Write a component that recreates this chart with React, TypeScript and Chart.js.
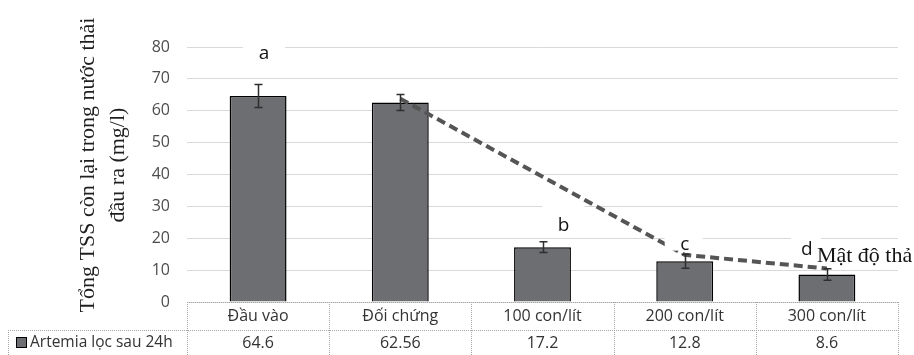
import React, { useEffect, useRef } from "react";
import { Chart, registerables } from "chart.js";

Chart.register(...registerables);

const categories = ["Đầu vào", "Đối chứng", "100 con/lít", "200 con/lít", "300 con/lít"];
const seriesName = "Artemia lọc sau 24h";
const values = [64.6, 62.56, 17.2, 12.8, 8.6];
const valueLabels = ["64.6", "62.56", "17.2", "12.8", "8.6"];
const errors = [3.6, 2.5, 1.7, 2.2, 1.8];
const trendValues = [null, 63.8, null, 14.8, 10.5];
const letters = ["a", "", "b", "c", "d"];
const letterValues = [78, null, 24, 18, 16.3];
const yMin = 0;
const yMax = 80;
const yStep = 10;
const yTitle = ["Tổng TSS còn lại trong nước thải", "đầu ra (mg/l)"];
const annotationText = "Mật độ thả";

const SANS = '"Open Sans", "Noto Sans", sans-serif';
const SERIF = '"Liberation Serif", "DejaVu Serif", serif';

const letterBoxes = [
  { dx: 6, box: [-21, -8, 42, 20] },
  null,
  { dx: 21, box: [-21, -23, 42, 34] },
  { dx: 0, box: [-20, -14, 38, 20] },
  { dx: -20, box: [-16, -16, 30, 22] },
];

const overlayPlugin = {
  id: "overlay",
  afterDatasetsDraw(chart: any) {
    const { ctx } = chart;
    const xs = chart.scales.x;
    const ys = chart.scales.y;
    ctx.save();
    // error bars
    ctx.strokeStyle = "#2e2e2e";
    ctx.lineWidth = 1.5;
    values.forEach((v, i) => {
      const x = Math.round(xs.getPixelForValue(i)) + 0.5;
      const top = ys.getPixelForValue(v + errors[i]);
      const bot = ys.getPixelForValue(v - errors[i]);
      ctx.beginPath();
      ctx.moveTo(x, top);
      ctx.lineTo(x, bot);
      ctx.moveTo(x - 4, top);
      ctx.lineTo(x + 4, top);
      ctx.moveTo(x - 4, bot);
      ctx.lineTo(x + 4, bot);
      ctx.stroke();
    });
    // letters with white boxes
    ctx.font = `19px ${SANS}`;
    ctx.textAlign = "center";
    ctx.textBaseline = "middle";
    letters.forEach((l, i) => {
      const lv = letterValues[i];
      const spec = letterBoxes[i];
      if (!l || lv === null || !spec) return;
      const x = xs.getPixelForValue(i) + spec.dx;
      const y = ys.getPixelForValue(lv);
      ctx.fillStyle = "#ffffff";
      ctx.fillRect(x + spec.box[0], y + spec.box[1], spec.box[2], spec.box[3]);
      ctx.fillStyle = "#141414";
      ctx.fillText(l, x, y);
    });
    // annotation text
    ctx.font = `22px ${SERIF}`;
    ctx.textAlign = "left";
    ctx.textBaseline = "alphabetic";
    ctx.fillStyle = "#141414";
    ctx.fillText(annotationText, xs.getPixelForValue(4) - 10, ys.getPixelForValue(12.6));
    ctx.restore();
  },
  afterDraw(chart: any) {
    const { ctx, chartArea } = chart;
    const xs = chart.scales.x;
    const left = chartArea.left;
    const right = chartArea.right;
    const bottom = chartArea.bottom;
    const n = categories.length;
    const colW = (right - left) / n;
    const row1 = bottom;
    const row2 = bottom + 28;
    const end = chart.height;
    ctx.save();
    // table borders
    ctx.strokeStyle = "#a6a6a6";
    ctx.lineWidth = 1;
    ctx.setLineDash([1, 1]);
    ctx.beginPath();
    ctx.moveTo(left, Math.round(row1) + 0.5);
    ctx.lineTo(right, Math.round(row1) + 0.5);
    ctx.moveTo(8, Math.round(row2) + 0.5);
    ctx.lineTo(right, Math.round(row2) + 0.5);
    for (let i = 0; i <= n; i++) {
      const x = Math.round(left + i * colW) + 0.5;
      ctx.moveTo(x, row1);
      ctx.lineTo(x, end);
    }
    ctx.moveTo(8.5, row2);
    ctx.lineTo(8.5, end);
    ctx.stroke();
    ctx.setLineDash([]);
    // texts
    ctx.font = `16px ${SANS}`;
    ctx.fillStyle = "#333333";
    ctx.textAlign = "center";
    ctx.textBaseline = "middle";
    categories.forEach((c, i) => {
      const x = xs.getPixelForValue(i);
      ctx.fillText(c, x, row1 + 14);
      ctx.fillText(valueLabels[i], x, row2 + 13);
    });
    // legend key
    ctx.fillStyle = "#6d6e71";
    ctx.fillRect(16, row2 + 7, 11, 11);
    ctx.strokeStyle = "#000000";
    ctx.strokeRect(16.5, row2 + 7.5, 10, 10);
    ctx.fillStyle = "#333333";
    ctx.textAlign = "left";
    ctx.font = `15.5px ${SANS}`;
    ctx.fillText(seriesName, 30, row2 + 13);
    // y title
    ctx.font = `22px ${SERIF}`;
    ctx.fillStyle = "#1f1f1f";
    ctx.textAlign = "center";
    ctx.textBaseline = "middle";
    const cy = 165;
    [88, 118].forEach((cx, i) => {
      ctx.save();
      ctx.translate(cx, cy);
      ctx.rotate(-Math.PI / 2);
      ctx.fillText(yTitle[i], 0, 0);
      ctx.restore();
    });
    ctx.restore();
  },
};

export default function App() {
  const ref = useRef<HTMLCanvasElement | null>(null);
  useEffect(() => {
    document.body.style.margin = "0";
    const canvas = ref.current;
    if (!canvas) return;
    const chart = new Chart(canvas, {
      type: "bar",
      data: {
        labels: categories,
        datasets: [
          {
            type: "line",
            label: "trend",
            data: trendValues as any,
            borderColor: "#555555",
            borderWidth: 4,
            borderDash: [9, 5],
            pointRadius: 0,
            spanGaps: true,
            fill: false,
            order: 1,
          } as any,
          {
            type: "bar",
            label: seriesName,
            data: values,
            backgroundColor: "#6d6e71",
            borderColor: "#000000",
            borderWidth: 1.5,
            barPercentage: 0.4,
            categoryPercentage: 1,
            order: 2,
          },
        ],
      },
      options: {
        responsive: false,
        animation: false,
        devicePixelRatio: 1,
        layout: { padding: { left: 0, right: 16, top: 47, bottom: 53 } },
        plugins: { legend: { display: false }, tooltip: { enabled: false } },
        scales: {
          x: { display: false },
          y: {
            min: yMin,
            max: yMax,
            afterFit: (s: any) => {
              s.width = 187;
            },
            ticks: {
              stepSize: yStep,
              padding: 17,
              color: "#4d4d4d",
              font: { family: SANS, size: 16 },
            },
            grid: { color: "#d9d9d9", drawTicks: false, lineWidth: 1 },
            border: { display: false },
          },
        },
      },
      plugins: [overlayPlugin],
    });
    return () => chart.destroy();
  }, []);
  return <canvas ref={ref} width={914} height={355} style={{ display: "block" }} />;
}
